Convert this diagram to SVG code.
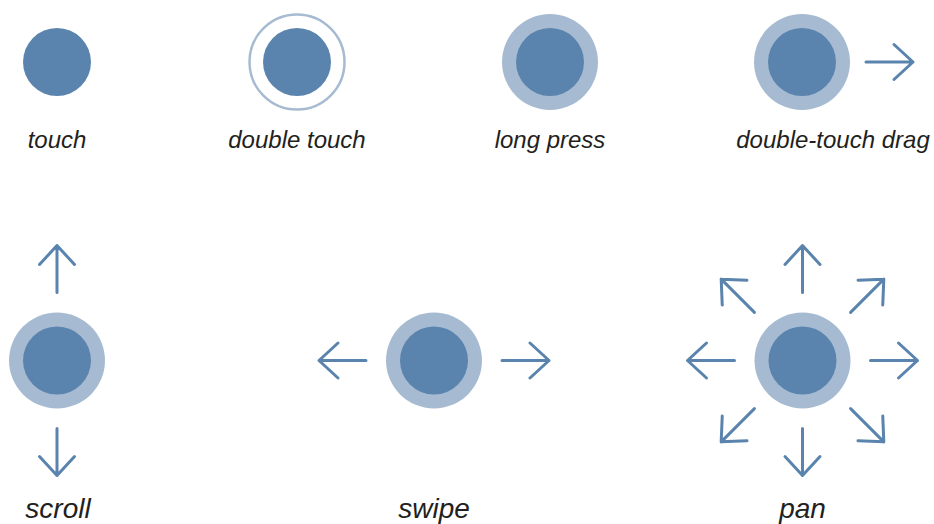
<svg xmlns="http://www.w3.org/2000/svg" xmlns:xlink="http://www.w3.org/1999/xlink" width="934" height="524" viewBox="0 0 934 524">
  <style>
    .inner { fill: #5a84ad; }
    .outer { fill: #a6bbd2; }
    .ring { fill: none; stroke: #a6bbd2; stroke-width: 2.5; }
    .arrow { fill: none; stroke: #5a84ad; stroke-width: 3; stroke-linecap: round; stroke-linejoin: round; }
    .lbl { font-family: "Liberation Sans", Arial, sans-serif; font-style: italic; fill: #231f20; text-anchor: middle; }
    .top { font-size: 24px; }
    .bot { font-size: 28px; }
  </style>
  <defs>
    <path id="arr" class="arrow" d="M0,0 H47 M28,-17.5 L47,0 L28,17.5"/>
  </defs>
  <rect width="934" height="524" fill="#ffffff"/>

  <g id="touch">
    <circle class="inner" cx="57" cy="62" r="34"/>
    <text class="lbl top" x="57" y="148">touch</text>
  </g>

  <g id="double-touch">
    <circle class="ring" cx="297" cy="62" r="47.5"/>
    <circle class="inner" cx="297" cy="62" r="34"/>
    <text class="lbl top" x="297" y="148">double touch</text>
  </g>

  <g id="long-press">
    <circle class="outer" cx="550" cy="62" r="48"/>
    <circle class="inner" cx="550" cy="62" r="34"/>
    <text class="lbl top" x="550" y="148">long press</text>
  </g>

  <g id="double-touch-drag">
    <circle class="outer" cx="802" cy="62" r="48"/>
    <circle class="inner" cx="802" cy="62" r="34"/>
    <text class="lbl top" x="833" y="148">double-touch drag</text>
  </g>

  <g id="scroll">
    <circle class="outer" cx="57" cy="360.5" r="48"/>
    <circle class="inner" cx="57" cy="360.5" r="34"/>
    <text class="lbl bot" x="58" y="517.5">scroll</text>
  </g>

  <g id="swipe">
    <circle class="outer" cx="434" cy="360.5" r="48"/>
    <circle class="inner" cx="434" cy="360.5" r="34"/>
    <text class="lbl bot" x="434" y="517.5">swipe</text>
  </g>

  <g id="pan">
    <circle class="outer" cx="802.5" cy="360.5" r="48"/>
    <circle class="inner" cx="802.5" cy="360.5" r="34"/>
    <text class="lbl bot" x="802.5" y="517.5">pan</text>
  </g>

  <g id="connectors">
    <use xlink:href="#arr" transform="translate(802,62) translate(64,0)"/>

    <use xlink:href="#arr" transform="translate(57,360.5) rotate(-90) translate(68,0)"/>
    <use xlink:href="#arr" transform="translate(57,360.5) rotate(90) translate(68,0)"/>

    <use xlink:href="#arr" transform="translate(434,360.5) rotate(0) translate(68,0)"/>
    <use xlink:href="#arr" transform="translate(434,360.5) rotate(180) translate(68,0)"/>

    <use xlink:href="#arr" transform="translate(802.5,360.5) rotate(0) translate(68,0)"/>
    <use xlink:href="#arr" transform="translate(802.5,360.5) rotate(45) translate(68,0)"/>
    <use xlink:href="#arr" transform="translate(802.5,360.5) rotate(90) translate(68,0)"/>
    <use xlink:href="#arr" transform="translate(802.5,360.5) rotate(135) translate(68,0)"/>
    <use xlink:href="#arr" transform="translate(802.5,360.5) rotate(180) translate(68,0)"/>
    <use xlink:href="#arr" transform="translate(802.5,360.5) rotate(225) translate(68,0)"/>
    <use xlink:href="#arr" transform="translate(802.5,360.5) rotate(270) translate(68,0)"/>
    <use xlink:href="#arr" transform="translate(802.5,360.5) rotate(315) translate(68,0)"/>
  </g>
</svg>
